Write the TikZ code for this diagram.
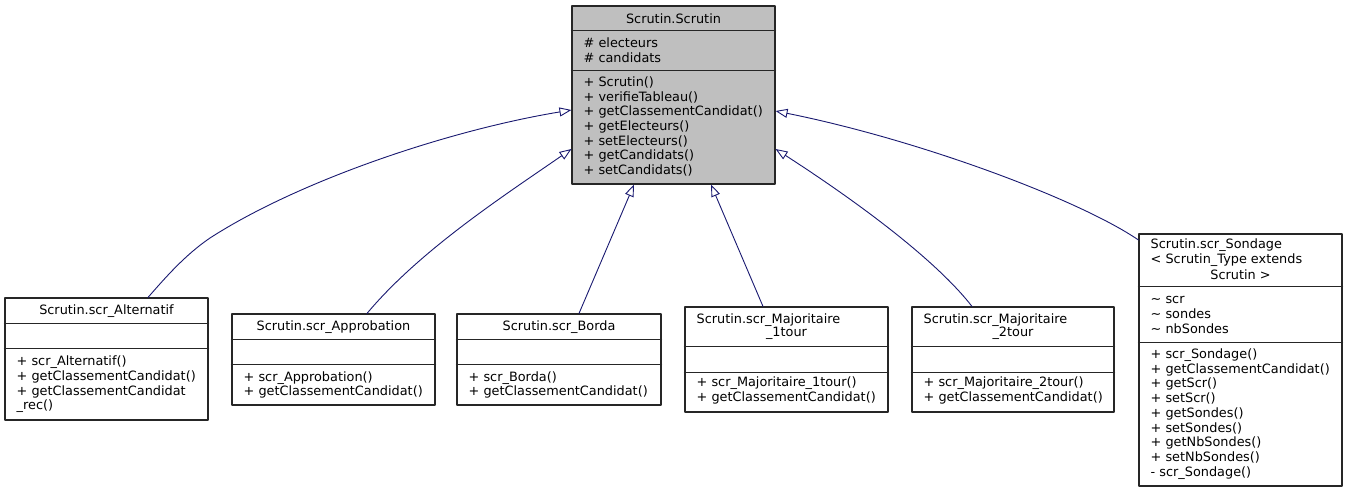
\documentclass[tikz,border=0pt]{standalone}
\usepackage{fontspec}
\setmainfont{DejaVu Sans}
\usetikzlibrary{arrows.meta, calc}
\definecolor{edgeblue}{RGB}{25,25,112}
\definecolor{rootgray}{RGB}{191,191,191}

\begin{document}
\begin{tikzpicture}[x=1pt, y=-1pt, line cap=round, line join=round,
    font=\fontsize{12.85}{14.7}\selectfont,
    classbox/.style={draw=black!85, line width=1.1pt, fill=white, rectangle, inner sep=0pt},
    sepline/.style={draw=black!85, line width=1.1pt},
    membertext/.style={inner sep=0pt, align=left},
    inheritline/.style={draw=edgeblue, line width=0.9pt, -{Triangle[open, length=12pt, width=9pt]}}]
    \useasboundingbox (0,0) rectangle (1347,492);

    %--- base class (grey)
    \node[classbox, fill=rootgray, minimum width=203pt, minimum height=178pt] (base) at (673.5,95) {};
    \draw[sepline] ($(base.north west)+(0,25.5)$) -- ($(base.north east)+(0,25.5)$);
    \draw[sepline] ($(base.north west)+(0,65)$) -- ($(base.north east)+(0,65)$);
    \node[membertext] (base-name) at (673.5,18.75) {Scrutin.Scrutin};
    \node[membertext, anchor=west] (base-attr) at (583.5,50) {\# electeurs\\\# candidats};
    \node[membertext, anchor=west] (base-ops) at (583.5,126.5) {+ Scrutin()\\+ verifieTableau()\\+ getClassementCandidat()\\+ getElecteurs()\\+ setElecteurs()\\+ getCandidats()\\+ setCandidats()};

    %--- derived classes
    \node[classbox, minimum width=203pt, minimum height=122pt] (alt) at (106.5,359) {};
    \draw[sepline] ($(alt.north west)+(0,26)$) -- ($(alt.north east)+(0,26)$);
    \draw[sepline] ($(alt.north west)+(0,51)$) -- ($(alt.north east)+(0,51)$);
    \node[membertext] (alt-name) at (106.5,311) {Scrutin.scr\_Alternatif};
    \node[membertext, anchor=west] (alt-ops) at (16.5,384.5) {+ scr\_Alternatif()\\+ getClassementCandidat()\\+ getClassementCandidat\\\_rec()};

    \node[classbox, minimum width=203pt, minimum height=91pt] (appr) at (333.5,359.5) {};
    \draw[sepline] ($(appr.north west)+(0,26)$) -- ($(appr.north east)+(0,26)$);
    \draw[sepline] ($(appr.north west)+(0,51)$) -- ($(appr.north east)+(0,51)$);
    \node[membertext] (appr-name) at (333.5,327) {Scrutin.scr\_Approbation};
    \node[membertext, anchor=west] (appr-ops) at (243.5,385) {+ scr\_Approbation()\\+ getClassementCandidat()};

    \node[classbox, minimum width=204pt, minimum height=91pt] (borda) at (559,359.5) {};
    \draw[sepline] ($(borda.north west)+(0,26)$) -- ($(borda.north east)+(0,26)$);
    \draw[sepline] ($(borda.north west)+(0,51)$) -- ($(borda.north east)+(0,51)$);
    \node[membertext] (borda-name) at (559,327) {Scrutin.scr\_Borda};
    \node[membertext, anchor=west] (borda-ops) at (468.5,385) {+ scr\_Borda()\\+ getClassementCandidat()};

    \node[classbox, minimum width=203pt, minimum height=105pt] (maj1) at (786.5,359.5) {};
    \draw[sepline] ($(maj1.north west)+(0,40)$) -- ($(maj1.north east)+(0,40)$);
    \draw[sepline] ($(maj1.north west)+(0,66)$) -- ($(maj1.north east)+(0,66)$);
    \node[membertext, anchor=west] (maj1-name) at (696.5,320) {Scrutin.scr\_Majoritaire};
    \node[membertext] (maj1-name2) at (786.5,333.5) {\_1tour};
    \node[membertext, anchor=west] (maj1-ops) at (696.5,390.5) {+ scr\_Majoritaire\_1tour()\\+ getClassementCandidat()};

    \node[classbox, minimum width=202pt, minimum height=105pt] (maj2) at (1013,359.5) {};
    \draw[sepline] ($(maj2.north west)+(0,40)$) -- ($(maj2.north east)+(0,40)$);
    \draw[sepline] ($(maj2.north west)+(0,66)$) -- ($(maj2.north east)+(0,66)$);
    \node[membertext, anchor=west] (maj2-name) at (923.5,320) {Scrutin.scr\_Majoritaire};
    \node[membertext] (maj2-name2) at (1013,333.5) {\_2tour};
    \node[membertext, anchor=west] (maj2-ops) at (923.5,390.5) {+ scr\_Majoritaire\_2tour()\\+ getClassementCandidat()};

    \node[classbox, minimum width=203pt, minimum height=252pt] (sond) at (1240.5,360) {};
    \draw[sepline] ($(sond.north west)+(0,53)$) -- ($(sond.north east)+(0,53)$);
    \draw[sepline] ($(sond.north west)+(0,109)$) -- ($(sond.north east)+(0,109)$);
    \node[membertext, anchor=west] (sond-name) at (1150.5,252.5) {Scrutin.scr\_Sondage\\< Scrutin\_Type extends};
    \node[membertext] (sond-name2) at (1240.5,275) {Scrutin >};
    \node[membertext, anchor=west] (sond-attr) at (1150.5,315) {\textasciitilde{} scr\\\textasciitilde{} sondes\\\textasciitilde{} nbSondes};
    \node[membertext, anchor=west] (sond-ops) at (1150.5,414) {+ scr\_Sondage()\\+ getClassementCandidat()\\+ getScr()\\+ setScr()\\+ getSondes()\\+ setSondes()\\+ getNbSondes()\\+ setNbSondes()\\- scr\_Sondage()};

    %--- inheritance arrows, child to parent
    \draw[inheritline] ([xshift=41.5pt]alt.north) .. controls (165,278) and (185,255) .. (210,238)
        .. controls (300,180) and (450,130) .. ([yshift=-15pt]base.west);
    \draw[inheritline] ([xshift=33.5pt]appr.north) .. controls (420,250) and (505,195) .. ([yshift=-54pt]base.west);
    \draw[inheritline] ([xshift=20pt]borda.north) -- ([xshift=-39.5pt]base.south);
    \draw[inheritline] ([xshift=-23.5pt]maj1.north) -- ([xshift=37.5pt]base.south);
    \draw[inheritline] ([xshift=-41pt]maj2.north) .. controls (940,265) and (870,210) .. ([yshift=-54pt]base.east);
    \draw[inheritline] ([yshift=120pt]sond.west) .. controls (1080,200) and (920,140) .. ([yshift=-16pt]base.east);
\end{tikzpicture}
\end{document}
